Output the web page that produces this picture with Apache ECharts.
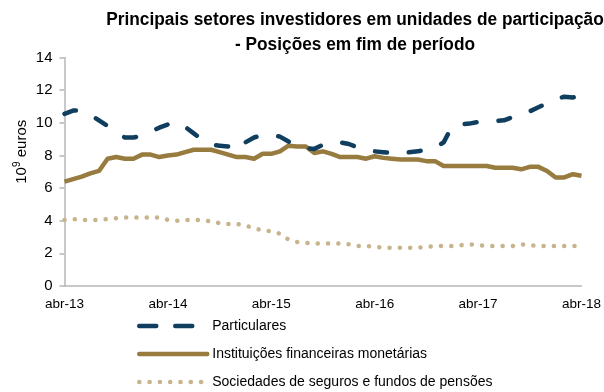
<!DOCTYPE html>
<html>
<head>
<meta charset="utf-8">
<script src="https://cdn.jsdelivr.net/npm/echarts@6/dist/echarts.min.js"></script>
<style>
  html, body { margin: 0; padding: 0; background: #fff; }
  #chart { width: 604px; height: 392px; }
</style>
</head>
<body>
<div id="chart"></div>
<script>
// Monthly end-of-period positions, abr-13 to abr-18 (10^9 euros)
const months = [];
const monthNames = ['abr','mai','jun','jul','ago','set','out','nov','dez','jan','fev','mar'];
for (let i = 0; i <= 60; i++) {
  const m = i % 12;
  const yr = 13 + Math.floor((i + 3) / 12);
  months.push(monthNames[m] + '-' + yr);
}

const titleLines = [
  'Principais setores investidores em unidades de participação',
  '- Posições em fim de período'
];

const seriesNames = [
  'Particulares',
  'Instituições financeiras monetárias',
  'Sociedades de seguros e fundos de pensões'
];

const particulares = [
  10.55, 10.75, 10.75, 10.5, 10.15, 9.8, 9.4, 9.1, 9.1, 9.2,
  9.45, 9.7, 9.9, 10.05, 9.75, 9.35, 8.95, 8.65, 8.6, 8.55,
  8.3, 8.8, 9.1, 9.25, 9.25, 9.15, 8.85, 8.6, 8.45, 8.4,
  8.65, 8.8, 8.8, 8.7, 8.5, 8.35, 8.25, 8.2, 8.15, 8.1,
  8.2, 8.25, 8.35, 8.45, 8.8, 9.8, 9.9, 9.95, 10.05, 10.1,
  10.1, 10.15, 10.35, 10.5, 10.7, 10.95, 11.2, 11.45, 11.6, 11.55,
  11.65
];

const ifm = [
  6.4, 6.55, 6.7, 6.9, 7.05, 7.8, 7.9, 7.8, 7.8, 8.05,
  8.05, 7.9, 8.0, 8.05, 8.2, 8.35, 8.35, 8.35, 8.2, 8.05,
  7.9, 7.9, 7.8, 8.1, 8.1, 8.25, 8.6, 8.55, 8.55, 8.15,
  8.25, 8.1, 7.9, 7.9, 7.9, 7.8, 7.95, 7.85, 7.8, 7.75,
  7.75, 7.75, 7.65, 7.65, 7.35, 7.35, 7.35, 7.35, 7.35, 7.35,
  7.25, 7.25, 7.25, 7.15, 7.3, 7.3, 7.05, 6.65, 6.65, 6.85,
  6.75
];

const seguros = [
  4.05, 4.1, 4.05, 4.05, 4.05, 4.1, 4.15, 4.2, 4.2, 4.2,
  4.2, 4.2, 4.05, 4.0, 4.05, 4.05, 4.05, 3.95, 3.85, 3.8,
  3.8, 3.7, 3.55, 3.4, 3.35, 3.2, 2.85, 2.7, 2.65, 2.6,
  2.6, 2.6, 2.6, 2.55, 2.45, 2.45, 2.4, 2.35, 2.35, 2.35,
  2.35, 2.35, 2.4, 2.45, 2.45, 2.45, 2.5, 2.55, 2.5, 2.45,
  2.45, 2.45, 2.45, 2.55, 2.5, 2.45, 2.45, 2.45, 2.45, 2.45,
  2.45
];

const yTicks = { min: 0, max: 14, interval: 2 };

const FONT = "'Liberation Sans', Arial, sans-serif";
const axisGrey = '#b7b7b7';
const NAVY = '#0f3e5e';
const GOLD = '#977b3f';
const SAND = '#c8b48c';

const chart = echarts.init(document.getElementById('chart'), null, { renderer: 'canvas' });

// Slightly condensed bold heading, centred over the plot
const titleGraphics = titleLines.map((line, k) => ({
  type: 'text',
  x: 355,
  y: 20 + k * 25,
  scaleX: 0.96,
  style: {
    text: line,
    font: 'bold 18px ' + FONT,
    fill: '#000',
    align: 'center',
    verticalAlign: 'middle'
  }
}));

chart.setOption({
  animation: false,
  backgroundColor: '#ffffff',
  textStyle: { fontFamily: FONT },
  graphic: titleGraphics,
  grid: { left: 64.5, right: 22, top: 57.5, bottom: 106, containLabel: false },
  legend: {
    orient: 'vertical',
    left: 132,
    top: 314,
    height: 86,
    itemWidth: 68,
    itemHeight: 14,
    itemGap: 14,
    itemStyle: { color: 'transparent', borderWidth: 0 },
    lineStyle: { width: 4.5, cap: 'round' },
    textStyle: { fontFamily: FONT, fontSize: 14, color: '#000' },
    data: [
      { name: seriesNames[0], lineStyle: { type: [17, 19], width: 4.5, cap: 'round' } },
      { name: seriesNames[1] },
      { name: seriesNames[2] }
    ]
  },
  xAxis: {
    type: 'category',
    data: months,
    boundaryGap: false,
    axisLine: { lineStyle: { color: axisGrey, width: 1.5 } },
    axisTick: { show: false },
    axisLabel: {
      interval: 11,
      margin: 11,
      fontFamily: FONT,
      fontSize: 13.5,
      color: '#000'
    },
    splitLine: { show: false }
  },
  yAxis: {
    type: 'value',
    min: yTicks.min,
    max: yTicks.max,
    interval: yTicks.interval,
    name: '{a|10}{s|9}{a| euros}',
    nameLocation: 'middle',
    nameRotate: 90,
    nameGap: 34,
    nameMoveOverlap: false,
    nameTextStyle: {
      padding: [0, 0, 0, 40],
      rich: {
        a: { fontFamily: FONT, fontSize: 15, color: '#000' },
        s: { fontFamily: FONT, fontSize: 10, color: '#000', verticalAlign: 'top', padding: [0, 0, 8, 0] }
      }
    },
    axisLine: { show: true, lineStyle: { color: axisGrey, width: 1.5 } },
    axisTick: { show: true, inside: false, length: 5, lineStyle: { color: axisGrey, width: 1.5 } },
    axisLabel: { margin: 12, fontFamily: FONT, fontSize: 15, color: '#000' },
    splitLine: { show: false }
  },
  series: [
    {
      name: seriesNames[0],
      type: 'line',
      data: particulares,
      symbol: 'none',
      z: 3,
      lineStyle: { color: NAVY, width: 4.5, type: [12, 22], cap: 'round', join: 'round' },
      itemStyle: { color: NAVY }
    },
    {
      name: seriesNames[1],
      type: 'line',
      data: ifm,
      symbol: 'none',
      z: 2,
      lineStyle: { color: GOLD, width: 4.5, join: 'round' },
      itemStyle: { color: GOLD }
    },
    {
      name: seriesNames[2],
      type: 'line',
      data: seguros,
      symbol: 'none',
      z: 1,
      lineStyle: { color: SAND, width: 4.5, type: [0.1, 10.2], cap: 'round' },
      itemStyle: { color: SAND }
    }
  ]
});
</script>
</body>
</html>
